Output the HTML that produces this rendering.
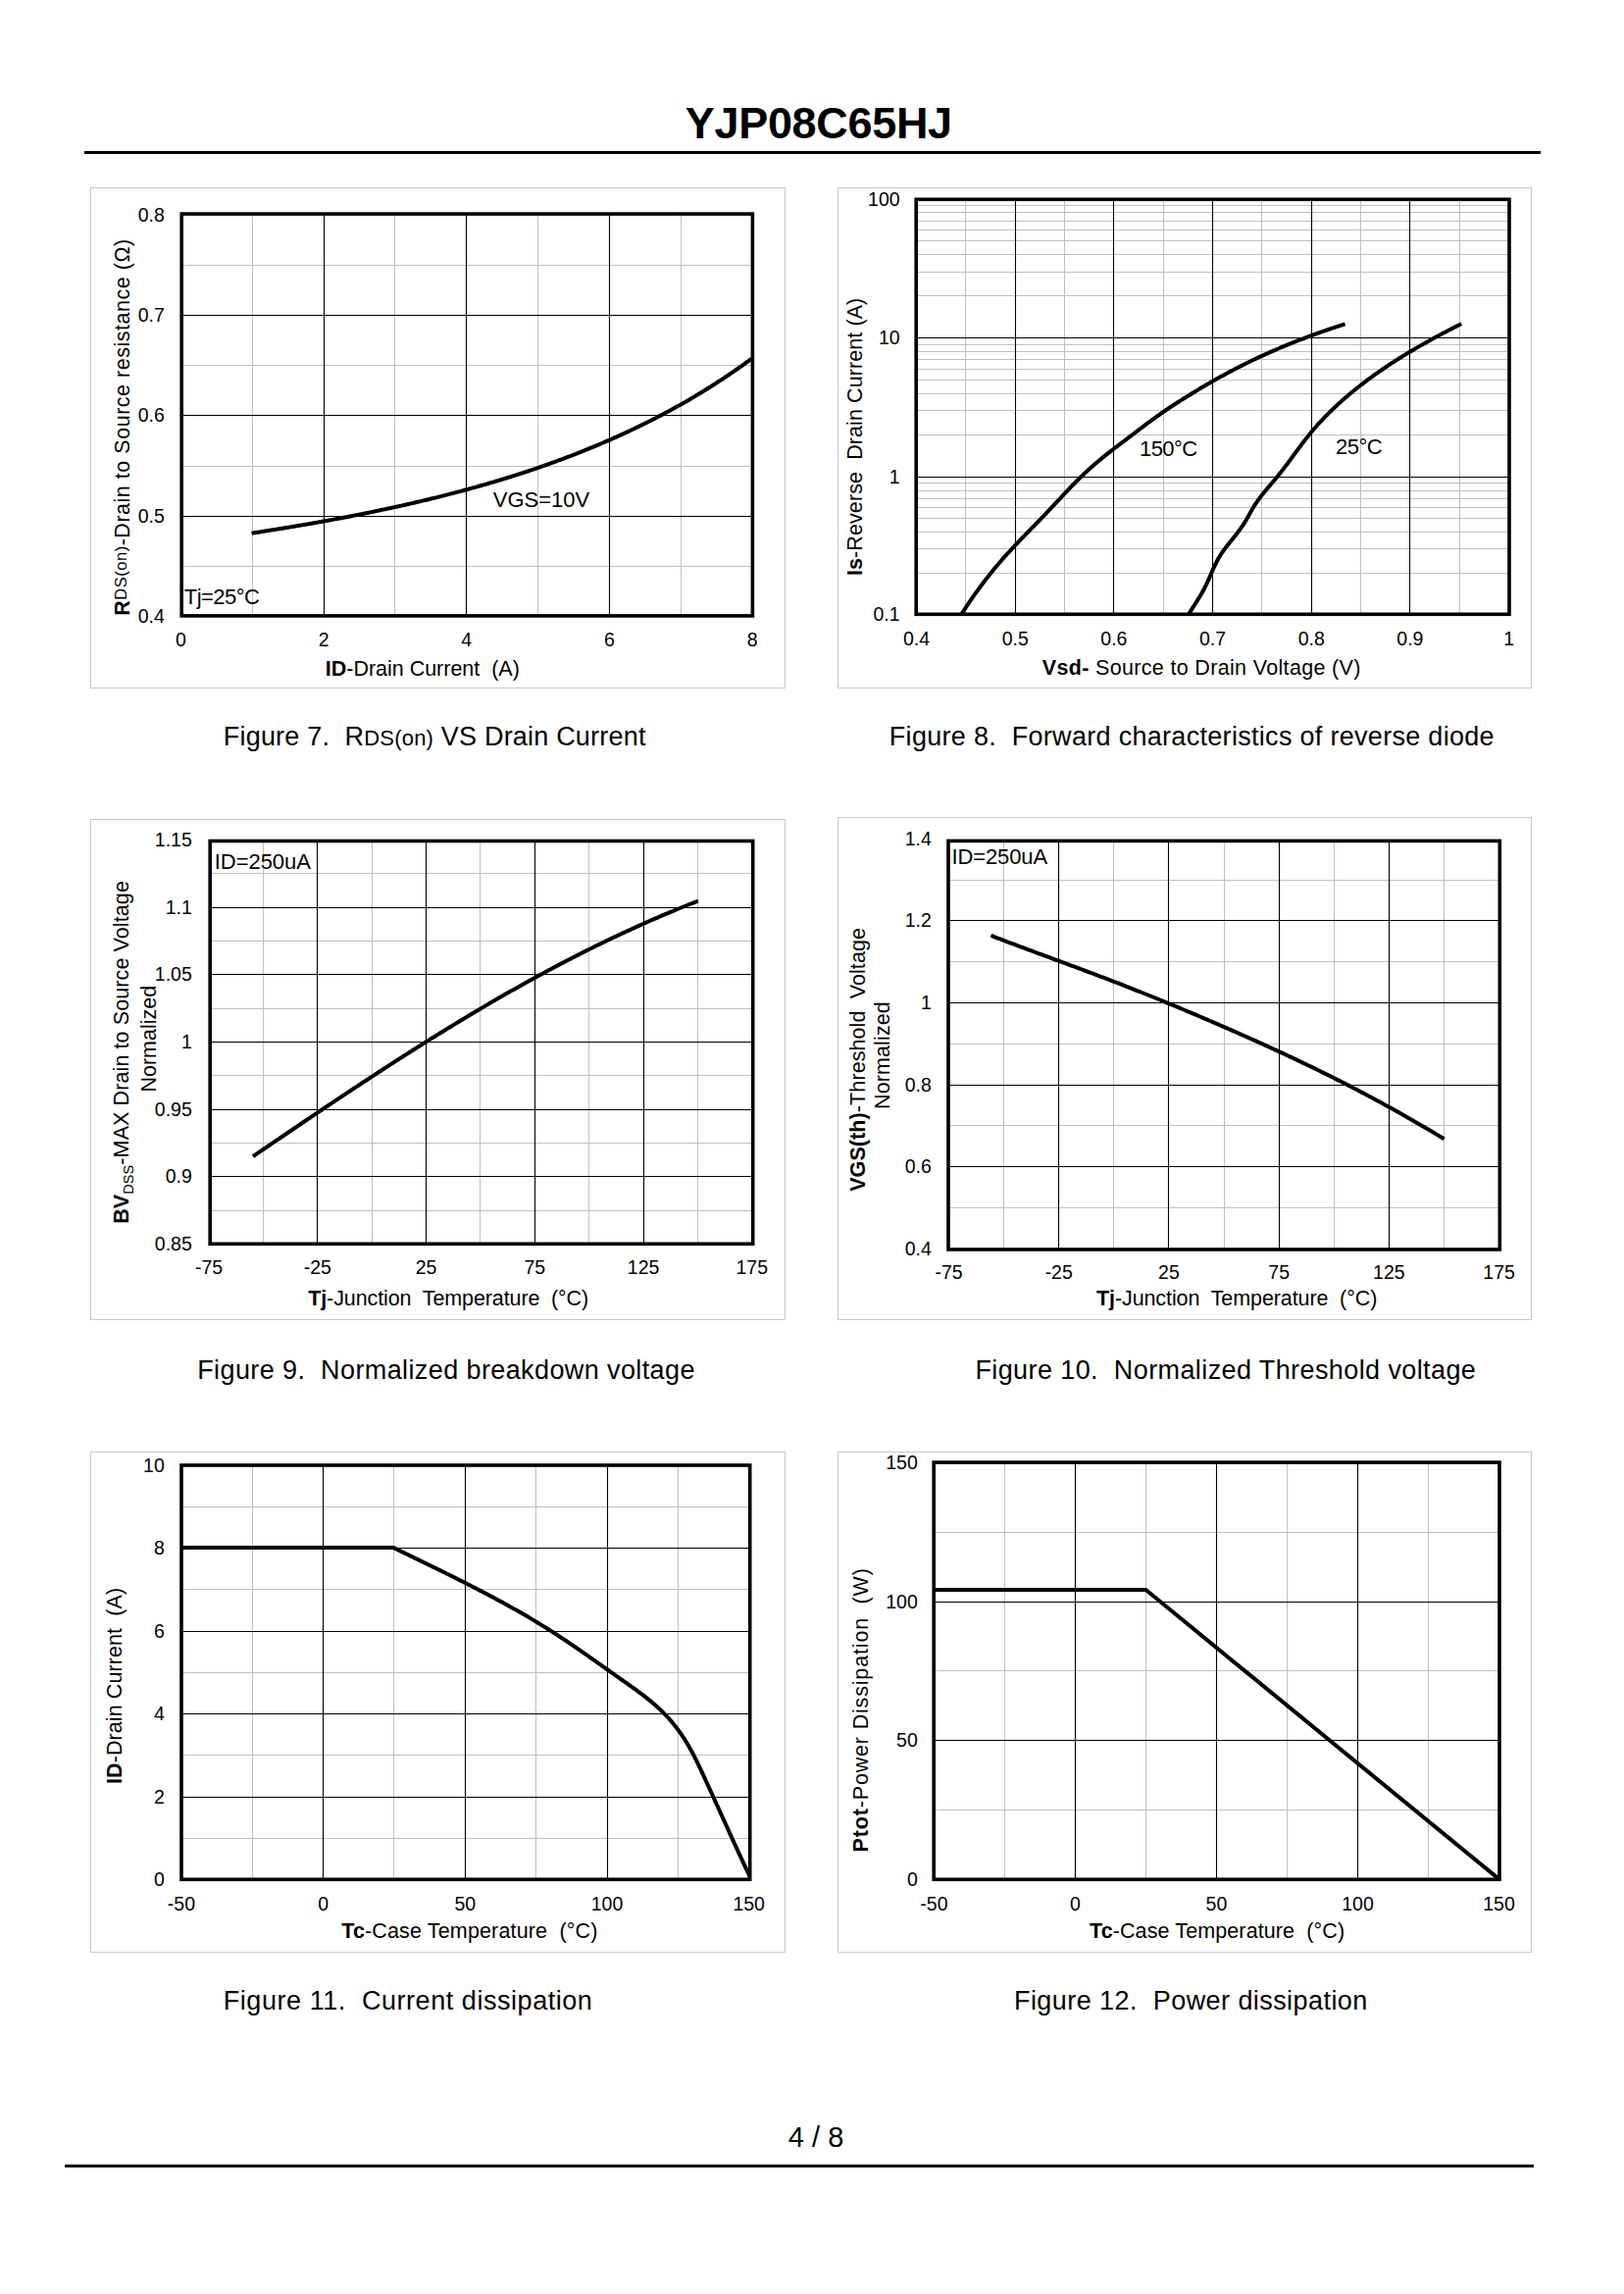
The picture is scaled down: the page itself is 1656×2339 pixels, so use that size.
<!DOCTYPE html>
<html><head><meta charset="utf-8"><title>YJP08C65HJ</title>
<style>
html,body{margin:0;padding:0;background:#fff;}
body{width:1656px;height:2339px;overflow:hidden;font-family:"Liberation Sans", sans-serif;}
svg{display:block;}
svg text{font-family:"Liberation Sans", sans-serif;fill:#000;}
</style></head><body>
<svg width="1656" height="2339" viewBox="0 0 1656 2339">
<rect width="1656" height="2339" fill="#fff"/>
<text id="title" x="698.8" y="141" font-size="45" font-weight="bold" textLength="272.28" lengthAdjust="spacing">YJP08C65HJ</text>
<rect x="86" y="154" width="1485" height="3" fill="#000"/>
<text id="footer" x="803.8" y="2189" font-size="29" textLength="56.64" lengthAdjust="spacing">4 / 8</text>
<rect x="66" y="2207" width="1498" height="3" fill="#000"/>
<rect x="92.5" y="191.5" width="708" height="510" fill="none" stroke="#c8c8c8" stroke-width="1"/>
<line x1="257.5" y1="218.1" x2="257.5" y2="627.9" stroke="#c0c0c0" stroke-width="1"/>
<line x1="402.5" y1="218.1" x2="402.5" y2="627.9" stroke="#c0c0c0" stroke-width="1"/>
<line x1="548.5" y1="218.1" x2="548.5" y2="627.9" stroke="#c0c0c0" stroke-width="1"/>
<line x1="694.5" y1="218.1" x2="694.5" y2="627.9" stroke="#c0c0c0" stroke-width="1"/>
<line x1="185.2" y1="577.5" x2="767.4" y2="577.5" stroke="#c0c0c0" stroke-width="1"/>
<line x1="185.2" y1="475.5" x2="767.4" y2="475.5" stroke="#c0c0c0" stroke-width="1"/>
<line x1="185.2" y1="372.5" x2="767.4" y2="372.5" stroke="#c0c0c0" stroke-width="1"/>
<line x1="185.2" y1="270.5" x2="767.4" y2="270.5" stroke="#c0c0c0" stroke-width="1"/>
<line x1="330.5" y1="218.1" x2="330.5" y2="627.9" stroke="#000" stroke-width="1.1"/>
<line x1="475.5" y1="218.1" x2="475.5" y2="627.9" stroke="#000" stroke-width="1.1"/>
<line x1="621.5" y1="218.1" x2="621.5" y2="627.9" stroke="#000" stroke-width="1.1"/>
<line x1="185.2" y1="526.5" x2="767.4" y2="526.5" stroke="#000" stroke-width="1.1"/>
<line x1="185.2" y1="423.5" x2="767.4" y2="423.5" stroke="#000" stroke-width="1.1"/>
<line x1="185.2" y1="321.5" x2="767.4" y2="321.5" stroke="#000" stroke-width="1.1"/>
<path d="M256.6,543.9 L258.73,543.35 L260.69,543.05 L262.65,542.74 L264.61,542.43 L266.58,542.13 L268.54,541.82 L270.51,541.51 L272.47,541.2 L274.44,540.88 L276.4,540.57 L278.37,540.25 L280.33,539.94 L282.3,539.62 L284.27,539.3 L286.24,538.98 L288.2,538.66 L290.17,538.34 L292.14,538.01 L294.11,537.69 L296.08,537.36 L298.05,537.03 L300.01,536.7 L301.98,536.37 L303.95,536.04 L305.92,535.7 L307.89,535.37 L309.86,535.03 L311.83,534.69 L313.81,534.35 L315.78,534.01 L317.75,533.66 L319.72,533.32 L321.69,532.97 L323.66,532.62 L325.63,532.27 L327.6,531.92 L329.57,531.56 L331.55,531.21 L333.52,530.85 L335.49,530.49 L337.46,530.13 L339.43,529.77 L341.4,529.4 L343.37,529.04 L345.34,528.67 L347.32,528.3 L349.29,527.93 L351.26,527.55 L353.23,527.18 L355.2,526.8 L357.17,526.42 L359.14,526.04 L361.11,525.66 L363.08,525.27 L365.05,524.89 L367.02,524.5 L368.99,524.11 L370.96,523.71 L372.93,523.32 L374.9,522.92 L376.87,522.52 L378.83,522.12 L380.8,521.72 L382.77,521.31 L384.74,520.9 L386.7,520.49 L388.67,520.08 L390.64,519.66 L392.6,519.25 L394.57,518.83 L396.53,518.41 L398.5,517.98 L400.46,517.56 L402.43,517.13 L404.39,516.7 L406.36,516.27 L408.32,515.83 L410.28,515.39 L412.24,514.96 L414.2,514.51 L416.16,514.07 L418.12,513.62 L420.08,513.17 L422.04,512.72 L424,512.27 L425.96,511.81 L427.92,511.35 L429.88,510.89 L431.83,510.42 L433.79,509.96 L435.74,509.49 L437.7,509.01 L439.65,508.54 L441.6,508.06 L443.56,507.58 L445.51,507.1 L447.46,506.61 L449.41,506.12 L451.36,505.63 L453.31,505.14 L455.26,504.64 L457.2,504.14 L459.15,503.64 L461.09,503.14 L463.04,502.63 L464.98,502.12 L466.93,501.61 L468.87,501.09 L470.81,500.57 L472.75,500.05 L474.69,499.53 L476.63,499 L478.57,498.47 L480.5,497.94 L482.44,497.4 L484.38,496.86 L486.31,496.32 L488.24,495.77 L490.18,495.22 L492.11,494.67 L494.04,494.12 L495.97,493.56 L497.89,493 L499.82,492.43 L501.75,491.87 L503.67,491.3 L505.6,490.72 L507.52,490.15 L509.44,489.57 L511.36,488.99 L513.28,488.4 L515.2,487.81 L517.12,487.22 L519.03,486.62 L520.95,486.02 L522.86,485.42 L524.77,484.81 L526.68,484.2 L528.59,483.59 L530.5,482.98 L532.41,482.36 L534.31,481.73 L536.22,481.11 L538.12,480.48 L540.03,479.84 L541.93,479.21 L543.83,478.57 L545.72,477.92 L547.62,477.28 L549.52,476.63 L551.41,475.97 L553.3,475.31 L555.19,474.65 L557.08,473.99 L558.97,473.32 L560.86,472.65 L562.74,471.97 L564.63,471.29 L566.51,470.61 L568.39,469.92 L570.27,469.23 L572.15,468.54 L574.03,467.84 L575.9,467.14 L577.77,466.43 L579.64,465.72 L581.51,465.01 L583.38,464.29 L585.25,463.57 L587.12,462.85 L588.98,462.12 L590.84,461.38 L592.7,460.65 L594.56,459.91 L596.42,459.16 L598.27,458.41 L600.13,457.66 L601.98,456.9 L603.83,456.14 L605.68,455.38 L607.52,454.61 L609.37,453.84 L611.21,453.06 L613.05,452.28 L614.89,451.5 L616.73,450.71 L618.56,449.91 L620.4,449.12 L622.23,448.32 L624.06,447.51 L625.89,446.7 L627.71,445.89 L629.54,445.07 L631.36,444.24 L633.18,443.42 L635,442.59 L636.82,441.75 L638.63,440.91 L640.44,440.07 L642.25,439.22 L644.06,438.37 L645.87,437.51 L647.67,436.65 L649.48,435.78 L651.28,434.91 L653.07,434.03 L654.87,433.16 L656.66,432.27 L658.46,431.38 L660.25,430.49 L662.03,429.59 L663.82,428.69 L665.6,427.78 L667.38,426.87 L669.16,425.96 L670.94,425.04 L672.71,424.11 L674.49,423.18 L676.26,422.25 L678.02,421.31 L679.79,420.36 L681.55,419.42 L683.31,418.46 L685.07,417.5 L686.83,416.54 L688.58,415.57 L690.33,414.6 L692.08,413.62 L693.83,412.64 L695.58,411.65 L697.32,410.66 L699.06,409.67 L700.79,408.67 L702.53,407.66 L704.26,406.65 L705.99,405.63 L707.72,404.61 L709.45,403.58 L711.17,402.55 L712.89,401.52 L714.61,400.47 L716.32,399.43 L718.03,398.38 L719.74,397.32 L721.45,396.26 L723.15,395.19 L724.86,394.12 L726.56,393.04 L728.25,391.96 L729.95,390.87 L731.64,389.78 L733.33,388.68 L735.01,387.58 L736.7,386.47 L738.38,385.36 L740.06,384.24 L741.73,383.12 L743.41,381.99 L745.08,380.85 L746.74,379.71 L748.41,378.57 L750.07,377.42 L751.73,376.26 L753.38,375.1 L755.04,373.93 L756.69,372.76 L758.34,371.58 L759.98,370.4 L761.62,369.21 L763.26,368.02 L764.9,366.82 L766.3,365.7" fill="none" stroke="#000" stroke-width="4" stroke-linejoin="round" stroke-linecap="butt"/>
<rect x="185.2" y="218.1" width="582.2" height="409.8" fill="none" stroke="#000" stroke-width="3.6"/>
<text x="184.5" y="659" font-size="19.5" text-anchor="middle">0</text>
<text x="330.15" y="659" font-size="19.5" text-anchor="middle">2</text>
<text x="475.8" y="659" font-size="19.5" text-anchor="middle">4</text>
<text x="621.45" y="659" font-size="19.5" text-anchor="middle">6</text>
<text x="767.1" y="659" font-size="19.5" text-anchor="middle">8</text>
<text x="167.8" y="635.1" font-size="19.5" text-anchor="end">0.4</text>
<text x="167.8" y="532.75" font-size="19.5" text-anchor="end">0.5</text>
<text x="167.8" y="430.4" font-size="19.5" text-anchor="end">0.6</text>
<text x="167.8" y="328.05" font-size="19.5" text-anchor="end">0.7</text>
<text x="167.8" y="225.7" font-size="19.5" text-anchor="end">0.8</text>
<text id="c1xt" x="331.8" y="689.4" font-size="21.5" textLength="198.01" lengthAdjust="spacing"><tspan font-weight="bold">ID</tspan>-Drain Current&#160; (A)</text>
<text id="c1yt" transform="translate(131.8,627.8) rotate(-90)" x="0" y="0" font-size="21.5" textLength="384.07" lengthAdjust="spacing"><tspan font-weight="bold">R</tspan><tspan font-size="16.5" dy="-3">DS(on)</tspan><tspan dy="3">-Drain to Source resistance (&#937;)</tspan></text>
<text id="vgs" x="502.8" y="517.2" font-size="22" textLength="98.35" lengthAdjust="spacing">VGS=10V</text>
<text id="tj" x="187.8" y="616.3" font-size="22" textLength="77.04" lengthAdjust="spacing">Tj=25&#176;C</text>
<rect x="854.5" y="191.5" width="707" height="510" fill="none" stroke="#c8c8c8" stroke-width="1"/>
<line x1="984.5" y1="203.3" x2="984.5" y2="626.3" stroke="#c0c0c0" stroke-width="1"/>
<line x1="1085.5" y1="203.3" x2="1085.5" y2="626.3" stroke="#c0c0c0" stroke-width="1"/>
<line x1="1186.5" y1="203.3" x2="1186.5" y2="626.3" stroke="#c0c0c0" stroke-width="1"/>
<line x1="1286.5" y1="203.3" x2="1286.5" y2="626.3" stroke="#c0c0c0" stroke-width="1"/>
<line x1="1387.5" y1="203.3" x2="1387.5" y2="626.3" stroke="#c0c0c0" stroke-width="1"/>
<line x1="1488.5" y1="203.3" x2="1488.5" y2="626.3" stroke="#c0c0c0" stroke-width="1"/>
<line x1="934.2" y1="584.5" x2="1539" y2="584.5" stroke="#c0c0c0" stroke-width="1"/>
<line x1="934.2" y1="559.5" x2="1539" y2="559.5" stroke="#c0c0c0" stroke-width="1"/>
<line x1="934.2" y1="542.5" x2="1539" y2="542.5" stroke="#c0c0c0" stroke-width="1"/>
<line x1="934.2" y1="528.5" x2="1539" y2="528.5" stroke="#c0c0c0" stroke-width="1"/>
<line x1="934.2" y1="517.5" x2="1539" y2="517.5" stroke="#c0c0c0" stroke-width="1"/>
<line x1="934.2" y1="508.5" x2="1539" y2="508.5" stroke="#c0c0c0" stroke-width="1"/>
<line x1="934.2" y1="500.5" x2="1539" y2="500.5" stroke="#c0c0c0" stroke-width="1"/>
<line x1="934.2" y1="492.5" x2="1539" y2="492.5" stroke="#c0c0c0" stroke-width="1"/>
<line x1="934.2" y1="443.5" x2="1539" y2="443.5" stroke="#c0c0c0" stroke-width="1"/>
<line x1="934.2" y1="418.5" x2="1539" y2="418.5" stroke="#c0c0c0" stroke-width="1"/>
<line x1="934.2" y1="401.5" x2="1539" y2="401.5" stroke="#c0c0c0" stroke-width="1"/>
<line x1="934.2" y1="387.5" x2="1539" y2="387.5" stroke="#c0c0c0" stroke-width="1"/>
<line x1="934.2" y1="376.5" x2="1539" y2="376.5" stroke="#c0c0c0" stroke-width="1"/>
<line x1="934.2" y1="366.5" x2="1539" y2="366.5" stroke="#c0c0c0" stroke-width="1"/>
<line x1="934.2" y1="358.5" x2="1539" y2="358.5" stroke="#c0c0c0" stroke-width="1"/>
<line x1="934.2" y1="351.5" x2="1539" y2="351.5" stroke="#c0c0c0" stroke-width="1"/>
<line x1="934.2" y1="301.5" x2="1539" y2="301.5" stroke="#c0c0c0" stroke-width="1"/>
<line x1="934.2" y1="277.5" x2="1539" y2="277.5" stroke="#c0c0c0" stroke-width="1"/>
<line x1="934.2" y1="259.5" x2="1539" y2="259.5" stroke="#c0c0c0" stroke-width="1"/>
<line x1="934.2" y1="245.5" x2="1539" y2="245.5" stroke="#c0c0c0" stroke-width="1"/>
<line x1="934.2" y1="234.5" x2="1539" y2="234.5" stroke="#c0c0c0" stroke-width="1"/>
<line x1="934.2" y1="225.5" x2="1539" y2="225.5" stroke="#c0c0c0" stroke-width="1"/>
<line x1="934.2" y1="216.5" x2="1539" y2="216.5" stroke="#c0c0c0" stroke-width="1"/>
<line x1="934.2" y1="209.5" x2="1539" y2="209.5" stroke="#c0c0c0" stroke-width="1"/>
<line x1="1035.5" y1="203.3" x2="1035.5" y2="626.3" stroke="#000" stroke-width="1.1"/>
<line x1="1135.5" y1="203.3" x2="1135.5" y2="626.3" stroke="#000" stroke-width="1.1"/>
<line x1="1236.5" y1="203.3" x2="1236.5" y2="626.3" stroke="#000" stroke-width="1.1"/>
<line x1="1337.5" y1="203.3" x2="1337.5" y2="626.3" stroke="#000" stroke-width="1.1"/>
<line x1="1437.5" y1="203.3" x2="1437.5" y2="626.3" stroke="#000" stroke-width="1.1"/>
<line x1="934.2" y1="486.5" x2="1539" y2="486.5" stroke="#000" stroke-width="1.1"/>
<line x1="934.2" y1="344.5" x2="1539" y2="344.5" stroke="#000" stroke-width="1.1"/>
<path d="M980.6,626.3 L981.55,624.53 L982.62,622.86 L983.71,621.19 L984.8,619.52 L985.89,617.86 L987,616.2 L988.11,614.54 L989.23,612.89 L990.36,611.25 L991.5,609.6 L992.64,607.96 L993.79,606.33 L994.95,604.7 L996.11,603.07 L997.28,601.45 L998.47,599.83 L999.65,598.22 L1000.85,596.62 L1002.05,595.02 L1003.26,593.42 L1004.48,591.83 L1005.7,590.24 L1006.93,588.66 L1008.17,587.09 L1009.42,585.52 L1010.67,583.96 L1011.93,582.4 L1013.2,580.85 L1014.47,579.31 L1015.75,577.77 L1017.04,576.24 L1018.34,574.72 L1019.64,573.2 L1020.95,571.69 L1022.26,570.18 L1023.59,568.69 L1024.92,567.19 L1026.25,565.71 L1027.59,564.23 L1028.94,562.76 L1030.29,561.29 L1031.65,559.82 L1033.01,558.36 L1034.38,556.91 L1035.75,555.46 L1037.12,554.01 L1038.5,552.56 L1039.88,551.12 L1041.26,549.68 L1042.65,548.25 L1044.03,546.81 L1045.42,545.38 L1046.82,543.95 L1048.21,542.52 L1049.6,541.09 L1051,539.66 L1052.39,538.23 L1053.79,536.8 L1055.18,535.37 L1056.58,533.94 L1057.97,532.51 L1059.36,531.08 L1060.76,529.64 L1062.15,528.21 L1063.53,526.77 L1064.92,525.33 L1066.3,523.88 L1067.68,522.44 L1069.06,520.99 L1070.43,519.53 L1071.81,518.07 L1073.18,516.62 L1074.54,515.15 L1075.91,513.69 L1077.27,512.23 L1078.64,510.76 L1080,509.3 L1081.37,507.83 L1082.73,506.37 L1084.1,504.91 L1085.47,503.45 L1086.84,501.99 L1088.22,500.54 L1089.6,499.09 L1090.98,497.64 L1092.36,496.2 L1093.75,494.76 L1095.15,493.33 L1096.55,491.9 L1097.96,490.49 L1099.37,489.07 L1100.79,487.67 L1102.22,486.27 L1103.66,484.89 L1105.1,483.51 L1106.55,482.14 L1108.01,480.78 L1109.48,479.43 L1110.96,478.09 L1112.44,476.75 L1113.94,475.43 L1115.44,474.11 L1116.95,472.81 L1118.47,471.51 L1119.99,470.22 L1121.52,468.94 L1123.07,467.67 L1124.61,466.41 L1126.17,465.15 L1127.73,463.91 L1129.29,462.66 L1130.86,461.43 L1132.44,460.19 L1134.02,458.97 L1135.6,457.75 L1137.18,456.53 L1138.77,455.31 L1140.36,454.1 L1141.96,452.89 L1143.55,451.69 L1145.15,450.48 L1146.74,449.28 L1148.34,448.07 L1149.94,446.87 L1151.53,445.67 L1153.12,444.46 L1154.72,443.26 L1156.31,442.05 L1157.9,440.84 L1159.48,439.64 L1161.07,438.43 L1162.66,437.22 L1164.24,436.02 L1165.83,434.81 L1167.42,433.61 L1169.01,432.42 L1170.61,431.22 L1172.21,430.04 L1173.81,428.85 L1175.42,427.68 L1177.03,426.51 L1178.65,425.34 L1180.27,424.19 L1181.89,423.04 L1183.53,421.89 L1185.16,420.75 L1186.8,419.62 L1188.45,418.5 L1190.1,417.38 L1191.76,416.27 L1193.42,415.16 L1195.09,414.06 L1196.76,412.97 L1198.43,411.88 L1200.11,410.8 L1201.8,409.72 L1203.48,408.65 L1205.18,407.58 L1206.87,406.52 L1208.57,405.46 L1210.27,404.4 L1211.97,403.35 L1213.67,402.3 L1215.38,401.26 L1217.09,400.22 L1218.8,399.18 L1220.51,398.15 L1222.23,397.12 L1223.95,396.09 L1225.67,395.07 L1227.39,394.05 L1229.11,393.03 L1230.84,392.02 L1232.57,391.02 L1234.3,390.01 L1236.04,389.02 L1237.77,388.02 L1239.51,387.04 L1241.26,386.05 L1243,385.08 L1244.75,384.1 L1246.5,383.13 L1248.25,382.17 L1250.01,381.22 L1251.77,380.26 L1253.53,379.32 L1255.3,378.38 L1257.07,377.44 L1258.84,376.51 L1260.61,375.59 L1262.39,374.68 L1264.17,373.77 L1265.95,372.86 L1267.74,371.96 L1269.53,371.07 L1271.32,370.19 L1273.12,369.31 L1274.92,368.43 L1276.72,367.56 L1278.52,366.7 L1280.33,365.85 L1282.14,365 L1283.95,364.15 L1285.77,363.31 L1287.59,362.48 L1289.41,361.65 L1291.23,360.83 L1293.06,360.01 L1294.89,359.2 L1296.72,358.4 L1298.55,357.6 L1300.39,356.8 L1302.22,356.01 L1304.06,355.23 L1305.91,354.45 L1307.75,353.68 L1309.6,352.91 L1311.45,352.15 L1313.3,351.39 L1315.16,350.64 L1317.01,349.89 L1318.87,349.15 L1320.73,348.41 L1322.59,347.68 L1324.46,346.96 L1326.32,346.24 L1328.19,345.52 L1330.06,344.81 L1331.93,344.1 L1333.81,343.4 L1335.68,342.7 L1337.56,342.01 L1339.44,341.32 L1341.32,340.64 L1343.2,339.96 L1345.08,339.29 L1346.97,338.62 L1348.86,337.95 L1350.74,337.29 L1352.63,336.64 L1354.52,335.99 L1356.42,335.34 L1358.31,334.7 L1360.21,334.06 L1362.1,333.43 L1364,332.8 L1365.9,332.17 L1367.8,331.55 L1369.7,330.93 L1371.6,330.3" fill="none" stroke="#000" stroke-width="4" stroke-linejoin="round" stroke-linecap="butt"/>
<path d="M1212.3,626.3 L1213.2,624.51 L1214.25,622.8 L1215.31,621.1 L1216.39,619.4 L1217.46,617.7 L1218.55,616 L1219.63,614.31 L1220.71,612.61 L1221.78,610.9 L1222.84,609.19 L1223.88,607.47 L1224.91,605.74 L1225.91,604.01 L1226.9,602.25 L1227.85,600.49 L1228.77,598.7 L1229.66,596.9 L1230.53,595.09 L1231.37,593.26 L1232.19,591.43 L1233,589.59 L1233.8,587.75 L1234.59,585.91 L1235.39,584.07 L1236.18,582.24 L1236.99,580.42 L1237.81,578.61 L1238.64,576.81 L1239.5,575.02 L1240.38,573.25 L1241.29,571.5 L1242.23,569.77 L1243.21,568.06 L1244.23,566.38 L1245.29,564.72 L1246.4,563.08 L1247.54,561.47 L1248.72,559.88 L1249.93,558.29 L1251.15,556.72 L1252.39,555.16 L1253.64,553.59 L1254.9,552.03 L1256.15,550.46 L1257.41,548.9 L1258.66,547.32 L1259.91,545.74 L1261.14,544.16 L1262.37,542.56 L1263.57,540.95 L1264.75,539.33 L1265.92,537.69 L1267.05,536.04 L1268.16,534.37 L1269.23,532.68 L1270.27,530.97 L1271.28,529.25 L1272.28,527.51 L1273.26,525.77 L1274.23,524.02 L1275.21,522.28 L1276.19,520.54 L1277.19,518.81 L1278.2,517.1 L1279.25,515.4 L1280.32,513.73 L1281.43,512.08 L1282.57,510.45 L1283.74,508.83 L1284.93,507.24 L1286.14,505.65 L1287.37,504.09 L1288.63,502.53 L1289.89,500.98 L1291.17,499.44 L1292.46,497.9 L1293.75,496.37 L1295.05,494.85 L1296.36,493.32 L1297.66,491.79 L1298.96,490.26 L1300.25,488.72 L1301.53,487.18 L1302.81,485.63 L1304.07,484.07 L1305.32,482.5 L1306.56,480.93 L1307.79,479.35 L1309.02,477.76 L1310.23,476.16 L1311.44,474.56 L1312.64,472.96 L1313.84,471.35 L1315.03,469.74 L1316.22,468.13 L1317.41,466.52 L1318.59,464.9 L1319.78,463.29 L1320.96,461.67 L1322.15,460.06 L1323.34,458.45 L1324.53,456.84 L1325.72,455.23 L1326.92,453.63 L1328.13,452.03 L1329.34,450.44 L1330.56,448.85 L1331.78,447.27 L1333.02,445.7 L1334.27,444.14 L1335.52,442.58 L1336.79,441.03 L1338.07,439.5 L1339.36,437.97 L1340.67,436.45 L1341.98,434.95 L1343.31,433.45 L1344.65,431.96 L1346,430.48 L1347.36,429.02 L1348.74,427.56 L1350.12,426.11 L1351.51,424.67 L1352.92,423.24 L1354.33,421.82 L1355.76,420.41 L1357.19,419 L1358.63,417.61 L1360.08,416.22 L1361.54,414.85 L1363.01,413.48 L1364.49,412.12 L1365.97,410.78 L1367.46,409.43 L1368.96,408.1 L1370.47,406.78 L1371.99,405.46 L1373.51,404.16 L1375.04,402.86 L1376.57,401.57 L1378.11,400.29 L1379.66,399.01 L1381.21,397.75 L1382.77,396.49 L1384.34,395.24 L1385.92,394 L1387.49,392.76 L1389.08,391.54 L1390.67,390.32 L1392.27,389.11 L1393.87,387.9 L1395.48,386.71 L1397.09,385.52 L1398.71,384.33 L1400.34,383.16 L1401.97,381.99 L1403.6,380.83 L1405.24,379.68 L1406.89,378.53 L1408.54,377.39 L1410.19,376.26 L1411.86,375.13 L1413.52,374.01 L1415.19,372.9 L1416.86,371.79 L1418.54,370.69 L1420.23,369.59 L1421.91,368.51 L1423.6,367.42 L1425.3,366.35 L1427,365.28 L1428.7,364.21 L1430.41,363.15 L1432.12,362.1 L1433.84,361.06 L1435.56,360.01 L1437.28,358.98 L1439,357.95 L1440.73,356.92 L1442.47,355.91 L1444.2,354.89 L1445.94,353.88 L1447.68,352.88 L1449.43,351.88 L1451.17,350.89 L1452.92,349.9 L1454.68,348.92 L1456.43,347.94 L1458.19,346.96 L1459.95,345.99 L1461.71,345.03 L1463.48,344.07 L1465.25,343.11 L1467.01,342.16 L1468.79,341.21 L1470.56,340.27 L1472.33,339.33 L1474.11,338.4 L1475.89,337.47 L1477.67,336.54 L1479.45,335.62 L1481.24,334.7 L1483.02,333.78 L1484.81,332.87 L1486.59,331.96 L1488.38,331.06 L1490.2,330.2" fill="none" stroke="#000" stroke-width="4" stroke-linejoin="round" stroke-linecap="butt"/>
<rect x="934.2" y="203.3" width="604.8" height="423" fill="none" stroke="#000" stroke-width="3.6"/>
<text x="934.55" y="658" font-size="19.5" text-anchor="middle">0.4</text>
<text x="1035.22" y="658" font-size="19.5" text-anchor="middle">0.5</text>
<text x="1135.89" y="658" font-size="19.5" text-anchor="middle">0.6</text>
<text x="1236.56" y="658" font-size="19.5" text-anchor="middle">0.7</text>
<text x="1337.23" y="658" font-size="19.5" text-anchor="middle">0.8</text>
<text x="1437.9" y="658" font-size="19.5" text-anchor="middle">0.9</text>
<text x="1538.57" y="658" font-size="19.5" text-anchor="middle">1</text>
<text x="917.6" y="632.8" font-size="19.5" text-anchor="end">0.1</text>
<text x="917.6" y="493.1" font-size="19.5" text-anchor="end">1</text>
<text x="917.6" y="351" font-size="19.5" text-anchor="end">10</text>
<text x="917.6" y="209.8" font-size="19.5" text-anchor="end">100</text>
<text id="c2xt" x="1062.8" y="687.8" font-size="21.5" textLength="324.6" lengthAdjust="spacing"><tspan font-weight="bold">Vsd-</tspan> Source to Drain Voltage (V)</text>
<text id="c2yt" transform="translate(879.3,587) rotate(-90)" x="0" y="0" font-size="21.5" textLength="283.28" lengthAdjust="spacing"><tspan font-weight="bold">Is</tspan>-Reverse&#160; Drain Current (A)</text>
<text id="l150" x="1162" y="464.8" font-size="22" textLength="59.11" lengthAdjust="spacing">150&#176;C</text>
<text id="l25" x="1362" y="462.9" font-size="22" textLength="47.66" lengthAdjust="spacing">25&#176;C</text>
<rect x="92.5" y="835.5" width="708" height="510" fill="none" stroke="#c8c8c8" stroke-width="1"/>
<line x1="268.5" y1="857.5" x2="268.5" y2="1268.3" stroke="#c0c0c0" stroke-width="1"/>
<line x1="379.5" y1="857.5" x2="379.5" y2="1268.3" stroke="#c0c0c0" stroke-width="1"/>
<line x1="489.5" y1="857.5" x2="489.5" y2="1268.3" stroke="#c0c0c0" stroke-width="1"/>
<line x1="600.5" y1="857.5" x2="600.5" y2="1268.3" stroke="#c0c0c0" stroke-width="1"/>
<line x1="711.5" y1="857.5" x2="711.5" y2="1268.3" stroke="#c0c0c0" stroke-width="1"/>
<line x1="214.2" y1="1234.5" x2="767.7" y2="1234.5" stroke="#c0c0c0" stroke-width="1"/>
<line x1="214.2" y1="1165.5" x2="767.7" y2="1165.5" stroke="#c0c0c0" stroke-width="1"/>
<line x1="214.2" y1="1096.5" x2="767.7" y2="1096.5" stroke="#c0c0c0" stroke-width="1"/>
<line x1="214.2" y1="1028.5" x2="767.7" y2="1028.5" stroke="#c0c0c0" stroke-width="1"/>
<line x1="214.2" y1="959.5" x2="767.7" y2="959.5" stroke="#c0c0c0" stroke-width="1"/>
<line x1="214.2" y1="890.5" x2="767.7" y2="890.5" stroke="#c0c0c0" stroke-width="1"/>
<line x1="323.5" y1="857.5" x2="323.5" y2="1268.3" stroke="#000" stroke-width="1.1"/>
<line x1="434.5" y1="857.5" x2="434.5" y2="1268.3" stroke="#000" stroke-width="1.1"/>
<line x1="545.5" y1="857.5" x2="545.5" y2="1268.3" stroke="#000" stroke-width="1.1"/>
<line x1="656.5" y1="857.5" x2="656.5" y2="1268.3" stroke="#000" stroke-width="1.1"/>
<line x1="214.2" y1="1199.5" x2="767.7" y2="1199.5" stroke="#000" stroke-width="1.1"/>
<line x1="214.2" y1="1131.5" x2="767.7" y2="1131.5" stroke="#000" stroke-width="1.1"/>
<line x1="214.2" y1="1062.5" x2="767.7" y2="1062.5" stroke="#000" stroke-width="1.1"/>
<line x1="214.2" y1="993.5" x2="767.7" y2="993.5" stroke="#000" stroke-width="1.1"/>
<line x1="214.2" y1="925.5" x2="767.7" y2="925.5" stroke="#000" stroke-width="1.1"/>
<path d="M258.1,1179.3 L259.66,1177.93 L261.31,1176.81 L262.96,1175.68 L264.61,1174.56 L266.26,1173.44 L267.91,1172.31 L269.56,1171.19 L271.21,1170.07 L272.87,1168.95 L274.52,1167.82 L276.17,1166.7 L277.82,1165.58 L279.48,1164.46 L281.13,1163.33 L282.78,1162.21 L284.43,1161.09 L286.09,1159.97 L287.74,1158.84 L289.4,1157.72 L291.05,1156.6 L292.71,1155.48 L294.36,1154.36 L296.02,1153.24 L297.67,1152.11 L299.33,1150.99 L300.99,1149.87 L302.64,1148.75 L304.3,1147.63 L305.96,1146.51 L307.61,1145.39 L309.27,1144.27 L310.93,1143.15 L312.59,1142.03 L314.25,1140.92 L315.91,1139.8 L317.57,1138.68 L319.23,1137.56 L320.89,1136.45 L322.55,1135.33 L324.21,1134.21 L325.87,1133.1 L327.53,1131.98 L329.2,1130.87 L330.86,1129.75 L332.52,1128.64 L334.19,1127.52 L335.85,1126.41 L337.52,1125.3 L339.18,1124.18 L340.85,1123.07 L342.51,1121.96 L344.18,1120.85 L345.85,1119.74 L347.51,1118.63 L349.18,1117.52 L350.85,1116.41 L352.52,1115.3 L354.19,1114.2 L355.86,1113.09 L357.53,1111.98 L359.2,1110.88 L360.87,1109.77 L362.54,1108.67 L364.21,1107.57 L365.88,1106.46 L367.56,1105.36 L369.23,1104.26 L370.9,1103.16 L372.58,1102.06 L374.25,1100.96 L375.93,1099.86 L377.61,1098.76 L379.28,1097.67 L380.96,1096.57 L382.64,1095.48 L384.32,1094.38 L386,1093.29 L387.68,1092.2 L389.36,1091.1 L391.04,1090.01 L392.72,1088.92 L394.4,1087.83 L396.08,1086.75 L397.77,1085.66 L399.45,1084.57 L401.13,1083.49 L402.82,1082.4 L404.51,1081.32 L406.19,1080.24 L407.88,1079.16 L409.57,1078.08 L411.25,1077 L412.94,1075.92 L414.63,1074.84 L416.32,1073.76 L418.01,1072.69 L419.71,1071.62 L421.4,1070.54 L423.09,1069.47 L424.78,1068.4 L426.48,1067.33 L428.17,1066.26 L429.87,1065.19 L431.57,1064.13 L433.26,1063.06 L434.96,1062 L436.66,1060.94 L438.36,1059.88 L440.06,1058.82 L441.76,1057.76 L443.46,1056.7 L445.16,1055.64 L446.87,1054.59 L448.57,1053.53 L450.28,1052.48 L451.98,1051.43 L453.69,1050.38 L455.39,1049.33 L457.1,1048.29 L458.81,1047.24 L460.52,1046.19 L462.23,1045.15 L463.94,1044.11 L465.65,1043.07 L467.37,1042.03 L469.08,1040.99 L470.79,1039.96 L472.51,1038.92 L474.22,1037.89 L475.94,1036.86 L477.66,1035.83 L479.38,1034.8 L481.1,1033.77 L482.82,1032.75 L484.54,1031.73 L486.26,1030.7 L487.98,1029.68 L489.71,1028.66 L491.43,1027.65 L493.16,1026.63 L494.88,1025.62 L496.61,1024.6 L498.34,1023.59 L500.07,1022.58 L501.8,1021.58 L503.53,1020.57 L505.26,1019.57 L506.99,1018.56 L508.72,1017.56 L510.46,1016.56 L512.2,1015.57 L513.93,1014.57 L515.67,1013.58 L517.41,1012.59 L519.15,1011.59 L520.89,1010.61 L522.63,1009.62 L524.37,1008.64 L526.11,1007.65 L527.86,1006.67 L529.6,1005.69 L531.35,1004.71 L533.1,1003.74 L534.85,1002.77 L536.6,1001.79 L538.35,1000.82 L540.1,999.86 L541.85,998.89 L543.6,997.93 L545.36,996.97 L547.11,996.01 L548.87,995.05 L550.63,994.09 L552.39,993.14 L554.15,992.19 L555.91,991.24 L557.67,990.29 L559.43,989.34 L561.2,988.4 L562.96,987.46 L564.73,986.52 L566.5,985.58 L568.26,984.65 L570.03,983.72 L571.8,982.78 L573.58,981.86 L575.35,980.93 L577.12,980.01 L578.9,979.08 L580.68,978.16 L582.45,977.25 L584.23,976.33 L586.01,975.42 L587.79,974.51 L589.58,973.6 L591.36,972.69 L593.14,971.79 L594.93,970.89 L596.72,969.99 L598.51,969.09 L600.3,968.2 L602.09,967.31 L603.88,966.42 L605.67,965.53 L607.47,964.64 L609.26,963.76 L611.06,962.88 L612.86,962 L614.65,961.13 L616.46,960.26 L618.26,959.39 L620.06,958.52 L621.86,957.65 L623.67,956.79 L625.48,955.93 L627.29,955.07 L629.09,954.22 L630.91,953.37 L632.72,952.52 L634.53,951.67 L636.35,950.82 L638.16,949.98 L639.98,949.14 L641.8,948.31 L643.62,947.47 L645.44,946.64 L647.26,945.81 L649.08,944.99 L650.91,944.16 L652.74,943.34 L654.56,942.52 L656.39,941.71 L658.22,940.9 L660.06,940.09 L661.89,939.28 L663.72,938.48 L665.56,937.67 L667.4,936.88 L669.24,936.08 L671.08,935.29 L672.92,934.5 L674.76,933.71 L676.61,932.93 L678.45,932.14 L680.3,931.37 L682.15,930.59 L684,929.82 L685.85,929.05 L687.7,928.28 L689.56,927.52 L691.41,926.76 L693.27,926 L695.13,925.24 L696.99,924.49 L698.85,923.74 L700.72,923 L702.58,922.25 L704.45,921.51 L706.32,920.78 L708.19,920.04 L710.06,919.31 L712,918.9" fill="none" stroke="#000" stroke-width="4" stroke-linejoin="round" stroke-linecap="butt"/>
<rect x="214.2" y="857.5" width="553.5" height="410.8" fill="none" stroke="#000" stroke-width="3.6"/>
<text x="213.1" y="1299" font-size="19.5" text-anchor="middle">-75</text>
<text x="323.84" y="1299" font-size="19.5" text-anchor="middle">-25</text>
<text x="434.58" y="1299" font-size="19.5" text-anchor="middle">25</text>
<text x="545.32" y="1299" font-size="19.5" text-anchor="middle">75</text>
<text x="656.06" y="1299" font-size="19.5" text-anchor="middle">125</text>
<text x="766.8" y="1299" font-size="19.5" text-anchor="middle">175</text>
<text x="195.8" y="1275.2" font-size="19.5" text-anchor="end">0.85</text>
<text x="195.8" y="1206.47" font-size="19.5" text-anchor="end">0.9</text>
<text x="195.8" y="1137.73" font-size="19.5" text-anchor="end">0.95</text>
<text x="195.8" y="1069" font-size="19.5" text-anchor="end">1</text>
<text x="195.8" y="1000.27" font-size="19.5" text-anchor="end">1.05</text>
<text x="195.8" y="931.53" font-size="19.5" text-anchor="end">1.1</text>
<text x="195.8" y="862.8" font-size="19.5" text-anchor="end">1.15</text>
<text id="c3xt" x="314.2" y="1331" font-size="21.5" textLength="286" lengthAdjust="spacing"><tspan font-weight="bold">Tj</tspan>-Junction&#160; Temperature&#160; (&#176;C)</text>
<text id="c3yt1" transform="translate(131.4,1247.8) rotate(-90)" x="0" y="0" font-size="21.5" textLength="349.7" lengthAdjust="spacing"><tspan font-weight="bold">BV</tspan><tspan font-size="14.5" dy="4.2">DSS</tspan><tspan dy="-4.2">-MAX Drain to Source Voltage</tspan></text>
<text id="c3yt2" transform="translate(158.6,1113.6) rotate(-90)" x="0" y="0" font-size="21.5" textLength="108.83" lengthAdjust="spacing">Normalized</text>
<text id="id3" x="218.8" y="886" font-size="22" textLength="98.07" lengthAdjust="spacing">ID=250uA</text>
<rect x="854.5" y="833.5" width="707" height="512" fill="none" stroke="#c8c8c8" stroke-width="1"/>
<line x1="1023.5" y1="857.4" x2="1023.5" y2="1274" stroke="#c0c0c0" stroke-width="1"/>
<line x1="1135.5" y1="857.4" x2="1135.5" y2="1274" stroke="#c0c0c0" stroke-width="1"/>
<line x1="1248.5" y1="857.4" x2="1248.5" y2="1274" stroke="#c0c0c0" stroke-width="1"/>
<line x1="1360.5" y1="857.4" x2="1360.5" y2="1274" stroke="#c0c0c0" stroke-width="1"/>
<line x1="1472.5" y1="857.4" x2="1472.5" y2="1274" stroke="#c0c0c0" stroke-width="1"/>
<line x1="967" y1="1231.5" x2="1529.3" y2="1231.5" stroke="#c0c0c0" stroke-width="1"/>
<line x1="967" y1="1147.5" x2="1529.3" y2="1147.5" stroke="#c0c0c0" stroke-width="1"/>
<line x1="967" y1="1064.5" x2="1529.3" y2="1064.5" stroke="#c0c0c0" stroke-width="1"/>
<line x1="967" y1="980.5" x2="1529.3" y2="980.5" stroke="#c0c0c0" stroke-width="1"/>
<line x1="967" y1="897.5" x2="1529.3" y2="897.5" stroke="#c0c0c0" stroke-width="1"/>
<line x1="1079.5" y1="857.4" x2="1079.5" y2="1274" stroke="#000" stroke-width="1.1"/>
<line x1="1191.5" y1="857.4" x2="1191.5" y2="1274" stroke="#000" stroke-width="1.1"/>
<line x1="1304.5" y1="857.4" x2="1304.5" y2="1274" stroke="#000" stroke-width="1.1"/>
<line x1="1416.5" y1="857.4" x2="1416.5" y2="1274" stroke="#000" stroke-width="1.1"/>
<line x1="967" y1="1189.5" x2="1529.3" y2="1189.5" stroke="#000" stroke-width="1.1"/>
<line x1="967" y1="1106.5" x2="1529.3" y2="1106.5" stroke="#000" stroke-width="1.1"/>
<line x1="967" y1="1022.5" x2="1529.3" y2="1022.5" stroke="#000" stroke-width="1.1"/>
<line x1="967" y1="938.5" x2="1529.3" y2="938.5" stroke="#000" stroke-width="1.1"/>
<path d="M1010.6,953.6 L1012.36,954.63 L1014.23,955.35 L1016.1,956.06 L1017.97,956.78 L1019.84,957.49 L1021.71,958.21 L1023.59,958.92 L1025.46,959.63 L1027.33,960.34 L1029.21,961.05 L1031.08,961.76 L1032.96,962.46 L1034.84,963.17 L1036.71,963.87 L1038.59,964.57 L1040.47,965.28 L1042.34,965.98 L1044.22,966.68 L1046.1,967.38 L1047.98,968.08 L1049.86,968.77 L1051.74,969.47 L1053.62,970.17 L1055.5,970.86 L1057.38,971.56 L1059.26,972.26 L1061.14,972.95 L1063.02,973.65 L1064.9,974.34 L1066.78,975.04 L1068.66,975.73 L1070.54,976.42 L1072.42,977.12 L1074.3,977.81 L1076.19,978.51 L1078.07,979.2 L1079.95,979.89 L1081.83,980.59 L1083.71,981.28 L1085.59,981.98 L1087.47,982.67 L1089.35,983.37 L1091.23,984.06 L1093.12,984.76 L1095,985.46 L1096.88,986.16 L1098.76,986.85 L1100.64,987.55 L1102.52,988.25 L1104.39,988.95 L1106.27,989.65 L1108.15,990.35 L1110.03,991.06 L1111.91,991.76 L1113.79,992.47 L1115.66,993.17 L1117.54,993.88 L1119.42,994.59 L1121.29,995.29 L1123.17,996.01 L1125.04,996.72 L1126.92,997.43 L1128.79,998.14 L1130.66,998.86 L1132.54,999.58 L1134.41,1000.3 L1136.28,1001.02 L1138.15,1001.74 L1140.02,1002.46 L1141.89,1003.19 L1143.76,1003.91 L1145.63,1004.64 L1147.5,1005.37 L1149.37,1006.1 L1151.23,1006.84 L1153.1,1007.57 L1154.96,1008.31 L1156.83,1009.04 L1158.69,1009.78 L1160.56,1010.52 L1162.42,1011.27 L1164.28,1012.01 L1166.15,1012.75 L1168.01,1013.5 L1169.87,1014.25 L1171.73,1015 L1173.59,1015.75 L1175.45,1016.5 L1177.31,1017.25 L1179.17,1018.01 L1181.02,1018.77 L1182.88,1019.52 L1184.74,1020.28 L1186.59,1021.04 L1188.45,1021.8 L1190.3,1022.57 L1192.16,1023.33 L1194.01,1024.1 L1195.87,1024.86 L1197.72,1025.63 L1199.57,1026.4 L1201.42,1027.17 L1203.27,1027.94 L1205.12,1028.72 L1206.97,1029.49 L1208.82,1030.27 L1210.67,1031.05 L1212.52,1031.82 L1214.37,1032.6 L1216.22,1033.38 L1218.06,1034.17 L1219.91,1034.95 L1221.76,1035.73 L1223.6,1036.52 L1225.45,1037.31 L1227.29,1038.09 L1229.14,1038.88 L1230.98,1039.67 L1232.82,1040.47 L1234.66,1041.26 L1236.51,1042.05 L1238.35,1042.85 L1240.19,1043.64 L1242.03,1044.44 L1243.87,1045.24 L1245.71,1046.04 L1247.55,1046.84 L1249.39,1047.64 L1251.23,1048.44 L1253.06,1049.24 L1254.9,1050.05 L1256.74,1050.85 L1258.57,1051.66 L1260.41,1052.47 L1262.25,1053.27 L1264.08,1054.08 L1265.91,1054.9 L1267.75,1055.71 L1269.58,1056.52 L1271.41,1057.34 L1273.24,1058.15 L1275.08,1058.97 L1276.91,1059.79 L1278.74,1060.61 L1280.57,1061.43 L1282.39,1062.25 L1284.22,1063.08 L1286.05,1063.9 L1287.88,1064.73 L1289.7,1065.56 L1291.53,1066.39 L1293.35,1067.22 L1295.18,1068.05 L1297,1068.89 L1298.82,1069.72 L1300.64,1070.56 L1302.47,1071.4 L1304.29,1072.24 L1306.11,1073.08 L1307.92,1073.93 L1309.74,1074.77 L1311.56,1075.62 L1313.38,1076.47 L1315.19,1077.32 L1317.01,1078.17 L1318.82,1079.03 L1320.63,1079.88 L1322.45,1080.74 L1324.26,1081.6 L1326.07,1082.46 L1327.88,1083.33 L1329.69,1084.19 L1331.49,1085.06 L1333.3,1085.93 L1335.11,1086.8 L1336.91,1087.67 L1338.72,1088.55 L1340.52,1089.42 L1342.32,1090.3 L1344.12,1091.18 L1345.92,1092.06 L1347.72,1092.95 L1349.52,1093.84 L1351.32,1094.73 L1353.11,1095.62 L1354.91,1096.51 L1356.7,1097.4 L1358.5,1098.3 L1360.29,1099.2 L1362.08,1100.1 L1363.87,1101.01 L1365.66,1101.91 L1367.44,1102.82 L1369.23,1103.73 L1371.02,1104.65 L1372.8,1105.56 L1374.58,1106.48 L1376.37,1107.4 L1378.15,1108.32 L1379.93,1109.24 L1381.71,1110.17 L1383.48,1111.1 L1385.26,1112.03 L1387.04,1112.96 L1388.81,1113.89 L1390.58,1114.83 L1392.36,1115.77 L1394.13,1116.71 L1395.9,1117.65 L1397.67,1118.6 L1399.44,1119.55 L1401.2,1120.5 L1402.97,1121.45 L1404.73,1122.4 L1406.49,1123.36 L1408.26,1124.32 L1410.02,1125.28 L1411.78,1126.24 L1413.54,1127.2 L1415.29,1128.17 L1417.05,1129.14 L1418.8,1130.11 L1420.56,1131.09 L1422.31,1132.06 L1424.06,1133.04 L1425.81,1134.02 L1427.56,1135 L1429.31,1135.98 L1431.06,1136.97 L1432.8,1137.96 L1434.55,1138.95 L1436.29,1139.94 L1438.03,1140.94 L1439.77,1141.93 L1441.51,1142.93 L1443.25,1143.93 L1444.99,1144.94 L1446.73,1145.94 L1448.46,1146.95 L1450.19,1147.96 L1451.93,1148.97 L1453.66,1149.98 L1455.39,1151 L1457.12,1152.02 L1458.84,1153.04 L1460.57,1154.06 L1462.3,1155.08 L1464.02,1156.11 L1465.74,1157.14 L1467.46,1158.17 L1469.18,1159.2 L1470.9,1160.23 L1472.6,1161.3" fill="none" stroke="#000" stroke-width="4" stroke-linejoin="round" stroke-linecap="butt"/>
<rect x="967" y="857.4" width="562.3" height="416.6" fill="none" stroke="#000" stroke-width="3.6"/>
<text x="967.5" y="1304" font-size="19.5" text-anchor="middle">-75</text>
<text x="1079.72" y="1304" font-size="19.5" text-anchor="middle">-25</text>
<text x="1191.94" y="1304" font-size="19.5" text-anchor="middle">25</text>
<text x="1304.16" y="1304" font-size="19.5" text-anchor="middle">75</text>
<text x="1416.38" y="1304" font-size="19.5" text-anchor="middle">125</text>
<text x="1528.6" y="1304" font-size="19.5" text-anchor="middle">175</text>
<text x="949.8" y="1279.6" font-size="19.5" text-anchor="end">0.4</text>
<text x="949.8" y="1196.06" font-size="19.5" text-anchor="end">0.6</text>
<text x="949.8" y="1112.52" font-size="19.5" text-anchor="end">0.8</text>
<text x="949.8" y="1028.98" font-size="19.5" text-anchor="end">1</text>
<text x="949.8" y="945.44" font-size="19.5" text-anchor="end">1.2</text>
<text x="949.8" y="861.9" font-size="19.5" text-anchor="end">1.4</text>
<text id="c4xt" x="1118" y="1331" font-size="21.5" textLength="286.3" lengthAdjust="spacing"><tspan font-weight="bold">Tj</tspan>-Junction&#160; Temperature&#160; (&#176;C)</text>
<text id="c4yt1" transform="translate(881.5,1214.8) rotate(-90)" x="0" y="0" font-size="21.5" textLength="268.78" lengthAdjust="spacing"><tspan font-weight="bold">VGS(th)</tspan>-Threshold&#160; Voltage</text>
<text id="c4yt2" transform="translate(906.8,1131) rotate(-90)" x="0" y="0" font-size="21.5" textLength="109.83" lengthAdjust="spacing">Normalized</text>
<text id="id4" x="970.4" y="880.8" font-size="22" textLength="97.77" lengthAdjust="spacing">ID=250uA</text>
<rect x="92.5" y="1480.5" width="708" height="510" fill="none" stroke="#c8c8c8" stroke-width="1"/>
<line x1="257.5" y1="1494" x2="257.5" y2="1916.3" stroke="#c0c0c0" stroke-width="1"/>
<line x1="401.5" y1="1494" x2="401.5" y2="1916.3" stroke="#c0c0c0" stroke-width="1"/>
<line x1="546.5" y1="1494" x2="546.5" y2="1916.3" stroke="#c0c0c0" stroke-width="1"/>
<line x1="691.5" y1="1494" x2="691.5" y2="1916.3" stroke="#c0c0c0" stroke-width="1"/>
<line x1="185" y1="1874.5" x2="764.7" y2="1874.5" stroke="#c0c0c0" stroke-width="1"/>
<line x1="185" y1="1789.5" x2="764.7" y2="1789.5" stroke="#c0c0c0" stroke-width="1"/>
<line x1="185" y1="1705.5" x2="764.7" y2="1705.5" stroke="#c0c0c0" stroke-width="1"/>
<line x1="185" y1="1620.5" x2="764.7" y2="1620.5" stroke="#c0c0c0" stroke-width="1"/>
<line x1="185" y1="1536.5" x2="764.7" y2="1536.5" stroke="#c0c0c0" stroke-width="1"/>
<line x1="329.5" y1="1494" x2="329.5" y2="1916.3" stroke="#000" stroke-width="1.1"/>
<line x1="474.5" y1="1494" x2="474.5" y2="1916.3" stroke="#000" stroke-width="1.1"/>
<line x1="619.5" y1="1494" x2="619.5" y2="1916.3" stroke="#000" stroke-width="1.1"/>
<line x1="185" y1="1832.5" x2="764.7" y2="1832.5" stroke="#000" stroke-width="1.1"/>
<line x1="185" y1="1747.5" x2="764.7" y2="1747.5" stroke="#000" stroke-width="1.1"/>
<line x1="185" y1="1663.5" x2="764.7" y2="1663.5" stroke="#000" stroke-width="1.1"/>
<line x1="185" y1="1578.5" x2="764.7" y2="1578.5" stroke="#000" stroke-width="1.1"/>
<path d="M185,1578 L401.5,1578 L403.24,1579.01 L405.03,1579.88 L406.83,1580.75 L408.62,1581.63 L410.42,1582.5 L412.21,1583.37 L414.01,1584.25 L415.81,1585.12 L417.61,1585.99 L419.4,1586.86 L421.2,1587.74 L423,1588.61 L424.8,1589.49 L426.6,1590.36 L428.39,1591.23 L430.19,1592.11 L431.99,1592.98 L433.79,1593.86 L435.59,1594.74 L437.39,1595.61 L439.18,1596.49 L440.98,1597.37 L442.78,1598.25 L444.58,1599.13 L446.37,1600.01 L448.17,1600.9 L449.97,1601.78 L451.76,1602.66 L453.56,1603.55 L455.35,1604.44 L457.15,1605.33 L458.94,1606.22 L460.73,1607.11 L462.53,1608 L464.32,1608.9 L466.11,1609.79 L467.9,1610.69 L469.69,1611.59 L471.47,1612.49 L473.26,1613.39 L475.05,1614.3 L476.83,1615.2 L478.62,1616.11 L480.4,1617.02 L482.18,1617.94 L483.96,1618.85 L485.74,1619.77 L487.52,1620.69 L489.29,1621.61 L491.07,1622.53 L492.84,1623.46 L494.62,1624.39 L496.39,1625.32 L498.16,1626.25 L499.92,1627.19 L501.69,1628.13 L503.45,1629.07 L505.22,1630.02 L506.98,1630.97 L508.74,1631.92 L510.49,1632.87 L512.25,1633.83 L514,1634.79 L515.76,1635.75 L517.51,1636.72 L519.25,1637.69 L521,1638.66 L522.74,1639.64 L524.49,1640.62 L526.22,1641.61 L527.96,1642.59 L529.7,1643.58 L531.43,1644.58 L533.16,1645.58 L534.89,1646.58 L536.61,1647.59 L538.34,1648.6 L540.06,1649.61 L541.77,1650.63 L543.49,1651.65 L545.2,1652.68 L546.91,1653.71 L548.62,1654.74 L550.33,1655.78 L552.03,1656.83 L553.73,1657.87 L555.42,1658.93 L557.12,1659.98 L558.81,1661.04 L560.49,1662.11 L562.18,1663.18 L563.86,1664.26 L565.54,1665.34 L567.21,1666.42 L568.88,1667.51 L570.55,1668.61 L572.22,1669.71 L573.89,1670.81 L575.55,1671.91 L577.21,1673.02 L578.87,1674.14 L580.52,1675.25 L582.18,1676.37 L583.83,1677.49 L585.48,1678.62 L587.13,1679.75 L588.77,1680.88 L590.42,1682.02 L592.06,1683.15 L593.7,1684.29 L595.35,1685.44 L596.99,1686.58 L598.63,1687.72 L600.26,1688.87 L601.9,1690.02 L603.54,1691.17 L605.17,1692.33 L606.81,1693.48 L608.45,1694.64 L610.08,1695.79 L611.71,1696.95 L613.35,1698.11 L614.98,1699.27 L616.62,1700.43 L618.25,1701.59 L619.89,1702.75 L621.52,1703.91 L623.16,1705.07 L624.8,1706.23 L626.43,1707.39 L628.07,1708.55 L629.71,1709.7 L631.35,1710.86 L632.99,1712.02 L634.63,1713.18 L636.28,1714.33 L637.92,1715.49 L639.56,1716.65 L641.2,1717.81 L642.84,1718.97 L644.48,1720.13 L646.11,1721.3 L647.73,1722.47 L649.36,1723.65 L650.97,1724.84 L652.58,1726.03 L654.18,1727.23 L655.77,1728.44 L657.35,1729.66 L658.93,1730.89 L660.49,1732.13 L662.04,1733.39 L663.58,1734.65 L665.1,1735.93 L666.61,1737.22 L668.11,1738.53 L669.59,1739.85 L671.05,1741.19 L672.51,1742.55 L673.94,1743.91 L675.36,1745.3 L676.76,1746.69 L678.14,1748.11 L679.51,1749.54 L680.86,1750.98 L682.19,1752.45 L683.51,1753.92 L684.8,1755.42 L686.08,1756.93 L687.34,1758.46 L688.57,1760 L689.79,1761.56 L690.99,1763.14 L692.16,1764.73 L693.32,1766.34 L694.46,1767.97 L695.58,1769.61 L696.67,1771.26 L697.76,1772.93 L698.82,1774.62 L699.86,1776.31 L700.89,1778.02 L701.9,1779.74 L702.9,1781.48 L703.88,1783.22 L704.85,1784.98 L705.8,1786.74 L706.74,1788.51 L707.67,1790.29 L708.59,1792.08 L709.49,1793.88 L710.39,1795.68 L711.28,1797.48 L712.16,1799.3 L713.03,1801.11 L713.89,1802.93 L714.75,1804.76 L715.61,1806.58 L716.46,1808.41 L717.3,1810.24 L718.15,1812.07 L718.99,1813.9 L719.83,1815.73 L720.67,1817.56 L721.51,1819.38 L722.34,1821.21 L723.18,1823.04 L724.01,1824.87 L724.85,1826.69 L725.68,1828.52 L726.51,1830.34 L727.34,1832.17 L728.17,1833.99 L729,1835.82 L729.82,1837.64 L730.65,1839.46 L731.48,1841.29 L732.31,1843.11 L733.13,1844.93 L733.96,1846.75 L734.78,1848.57 L735.61,1850.39 L736.43,1852.21 L737.26,1854.03 L738.08,1855.85 L738.91,1857.67 L739.73,1859.49 L740.56,1861.31 L741.38,1863.13 L742.21,1864.95 L743.03,1866.76 L743.86,1868.58 L744.69,1870.4 L745.51,1872.21 L746.34,1874.03 L747.17,1875.84 L748,1877.66 L748.83,1879.47 L749.66,1881.29 L750.5,1883.1 L751.33,1884.91 L752.16,1886.73 L753,1888.54 L753.84,1890.35 L754.67,1892.16 L755.51,1893.97 L756.36,1895.78 L757.2,1897.6 L758.04,1899.41 L758.89,1901.22 L759.74,1903.03 L760.59,1904.84 L761.44,1906.65 L762.29,1908.45 L763.14,1910.26 L764,1912.07 L764.6,1914" fill="none" stroke="#000" stroke-width="4" stroke-linejoin="round" stroke-linecap="butt"/>
<rect x="185" y="1494" width="579.7" height="422.3" fill="none" stroke="#000" stroke-width="3.6"/>
<text x="184.9" y="1948" font-size="19.5" text-anchor="middle">-50</text>
<text x="329.6" y="1948" font-size="19.5" text-anchor="middle">0</text>
<text x="474.3" y="1948" font-size="19.5" text-anchor="middle">50</text>
<text x="619" y="1948" font-size="19.5" text-anchor="middle">100</text>
<text x="763.7" y="1948" font-size="19.5" text-anchor="middle">150</text>
<text x="167.8" y="1923" font-size="19.5" text-anchor="end">0</text>
<text x="167.8" y="1838.52" font-size="19.5" text-anchor="end">2</text>
<text x="167.8" y="1754.04" font-size="19.5" text-anchor="end">4</text>
<text x="167.8" y="1669.56" font-size="19.5" text-anchor="end">6</text>
<text x="167.8" y="1585.08" font-size="19.5" text-anchor="end">8</text>
<text x="167.8" y="1500.6" font-size="19.5" text-anchor="end">10</text>
<text id="c5xt" x="348.2" y="1976" font-size="21.5" textLength="261.13" lengthAdjust="spacing"><tspan font-weight="bold">Tc</tspan>-Case Temperature&#160; (&#176;C)</text>
<text id="c5yt" transform="translate(123.8,1819) rotate(-90)" x="0" y="0" font-size="21.5" textLength="200.11" lengthAdjust="spacing"><tspan font-weight="bold">ID</tspan>-Drain Current&#160; (A)</text>
<rect x="854.5" y="1480.5" width="707" height="510" fill="none" stroke="#c8c8c8" stroke-width="1"/>
<line x1="1024.5" y1="1491.1" x2="1024.5" y2="1916.3" stroke="#c0c0c0" stroke-width="1"/>
<line x1="1168.5" y1="1491.1" x2="1168.5" y2="1916.3" stroke="#c0c0c0" stroke-width="1"/>
<line x1="1312.5" y1="1491.1" x2="1312.5" y2="1916.3" stroke="#c0c0c0" stroke-width="1"/>
<line x1="1456.5" y1="1491.1" x2="1456.5" y2="1916.3" stroke="#c0c0c0" stroke-width="1"/>
<line x1="952.2" y1="1845.5" x2="1529" y2="1845.5" stroke="#c0c0c0" stroke-width="1"/>
<line x1="952.2" y1="1703.5" x2="1529" y2="1703.5" stroke="#c0c0c0" stroke-width="1"/>
<line x1="952.2" y1="1562.5" x2="1529" y2="1562.5" stroke="#c0c0c0" stroke-width="1"/>
<line x1="1096.5" y1="1491.1" x2="1096.5" y2="1916.3" stroke="#000" stroke-width="1.1"/>
<line x1="1240.5" y1="1491.1" x2="1240.5" y2="1916.3" stroke="#000" stroke-width="1.1"/>
<line x1="1384.5" y1="1491.1" x2="1384.5" y2="1916.3" stroke="#000" stroke-width="1.1"/>
<line x1="952.2" y1="1774.5" x2="1529" y2="1774.5" stroke="#000" stroke-width="1.1"/>
<line x1="952.2" y1="1633.5" x2="1529" y2="1633.5" stroke="#000" stroke-width="1.1"/>
<path d="M952.2,1621 L1168.44,1621 L1529,1916.3" fill="none" stroke="#000" stroke-width="4" stroke-linejoin="round" stroke-linecap="butt"/>
<rect x="952.2" y="1491.1" width="576.8" height="425.2" fill="none" stroke="#000" stroke-width="3.6"/>
<text x="952.4" y="1948" font-size="19.5" text-anchor="middle">-50</text>
<text x="1096.42" y="1948" font-size="19.5" text-anchor="middle">0</text>
<text x="1240.45" y="1948" font-size="19.5" text-anchor="middle">50</text>
<text x="1384.47" y="1948" font-size="19.5" text-anchor="middle">100</text>
<text x="1528.5" y="1948" font-size="19.5" text-anchor="middle">150</text>
<text x="935.8" y="1922.8" font-size="19.5" text-anchor="end">0</text>
<text x="935.8" y="1781.23" font-size="19.5" text-anchor="end">50</text>
<text x="935.8" y="1639.67" font-size="19.5" text-anchor="end">100</text>
<text x="935.8" y="1498.1" font-size="19.5" text-anchor="end">150</text>
<text id="c6xt" x="1111" y="1976.2" font-size="21.5" textLength="260.13" lengthAdjust="spacing"><tspan font-weight="bold">Tc</tspan>-Case Temperature&#160; (&#176;C)</text>
<text id="c6yt" transform="translate(884.6,1888.4) rotate(-90)" x="0" y="0" font-size="21.5" textLength="289.29" lengthAdjust="spacing"><tspan font-weight="bold">Ptot</tspan>-Power Dissipation&#160; (W)</text>
<text id="cap7" x="227.8" y="759.8" font-size="27" textLength="430.63" lengthAdjust="spacing">Figure 7.&#160; R<tspan font-size="22">DS(on)</tspan> VS Drain Current</text>
<text id="cap8" x="906.8" y="759.8" font-size="27" textLength="616.85" lengthAdjust="spacing">Figure 8.&#160; Forward characteristics of reverse diode</text>
<text id="cap9" x="201.2" y="1405.5" font-size="27" textLength="507.27" lengthAdjust="spacing">Figure 9.&#160; Normalized breakdown voltage</text>
<text id="cap10" x="994.4" y="1405.5" font-size="27" textLength="510.47" lengthAdjust="spacing">Figure 10.&#160; Normalized Threshold voltage</text>
<text id="cap11" x="227.8" y="2048.5" font-size="27" textLength="376.09" lengthAdjust="spacing">Figure 11.&#160; Current dissipation</text>
<text id="cap12" x="1034" y="2048.5" font-size="27" textLength="360.29" lengthAdjust="spacing">Figure 12.&#160; Power dissipation</text>
</svg>
</body></html>
